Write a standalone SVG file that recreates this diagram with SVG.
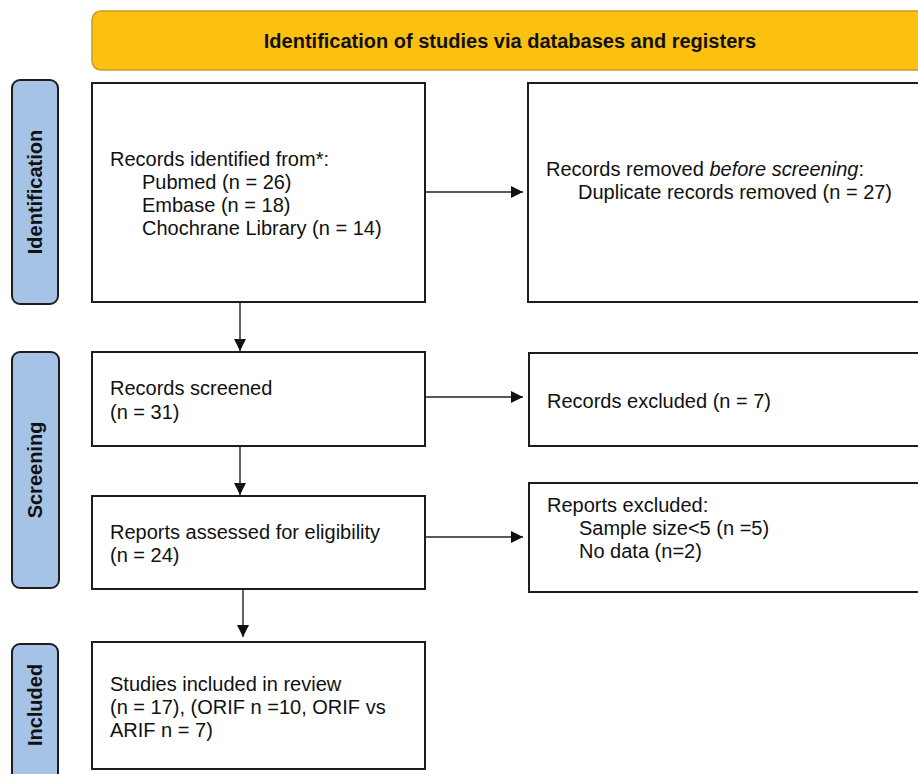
<svg xmlns="http://www.w3.org/2000/svg" width="918" height="774" viewBox="0 0 918 774">
<style>
.box{fill:#fff;stroke:#1e1e1e;stroke-width:2}
.side{fill:#a4c3e6;stroke:#1e1e1e;stroke-width:2}
.hdr{fill:#fcc010;stroke:#c99a25;stroke-width:1.5}
.t{font-family:"Liberation Sans",Arial,sans-serif;font-size:20px;fill:#111}
.b{font-family:"Liberation Sans",Arial,sans-serif;font-weight:bold;fill:#111}
.c{stroke:#222;stroke-width:1.4;fill:none}
</style>
<defs>
<marker id="ah" markerUnits="userSpaceOnUse" markerWidth="13" markerHeight="13" refX="12" refY="6" orient="auto">
<path d="M0,0 L12,6 L0,12 z" fill="#111"/>
</marker>
</defs>
<rect width="918" height="774" fill="#fff"/>
<g id="header">
<rect class="hdr" x="92" y="11" width="840" height="59" rx="9"/>
<text class="b" x="510" y="48" font-size="20" text-anchor="middle">Identification of studies via databases and registers</text>
</g>
<g id="lbl-identification">
<rect class="side" x="12" y="80" width="46" height="224" rx="8"/>
<text class="b" font-size="20" text-anchor="middle" transform="translate(42,192) rotate(-90)">Identification</text>
</g>
<g id="lbl-screening">
<rect class="side" x="12" y="352" width="47" height="236" rx="8"/>
<text class="b" font-size="20" text-anchor="middle" transform="translate(42,470) rotate(-90)">Screening</text>
</g>
<g id="lbl-included">
<rect class="side" x="12" y="644" width="46" height="150" rx="8"/>
<text class="b" font-size="20" text-anchor="middle" transform="translate(42,705) rotate(-90)">Included</text>
</g>
<g id="n-identified">
<rect class="box" x="92" y="83" width="333" height="219"/>
<text class="t" x="110" y="166">Records identified from*:</text>
<text class="t" x="142" y="189">Pubmed (n = 26)</text>
<text class="t" x="142" y="212">Embase (n = 18)</text>
<text class="t" x="142" y="235">Chochrane Library (n = 14)</text>
</g>
<g id="n-removed">
<rect class="box" x="528" y="83" width="400" height="219"/>
<text class="t" x="546" y="176">Records removed <tspan font-style="italic">before screening</tspan>:</text>
<text class="t" x="578" y="199">Duplicate records removed (n = 27)</text>
</g>
<g id="n-screened">
<rect class="box" x="92" y="352" width="333" height="94"/>
<text class="t" x="110" y="395">Records screened</text>
<text class="t" x="110" y="419">(n = 31)</text>
</g>
<g id="n-rec-excluded">
<rect class="box" x="529" y="353" width="400" height="93"/>
<text class="t" x="547" y="408">Records excluded (n = 7)</text>
</g>
<g id="n-assessed">
<rect class="box" x="92" y="496" width="333" height="93"/>
<text class="t" x="110" y="539">Reports assessed for eligibility</text>
<text class="t" x="110" y="562">(n = 24)</text>
</g>
<g id="n-rep-excluded">
<rect class="box" x="529" y="483" width="400" height="109"/>
<text class="t" x="547" y="512">Reports excluded:</text>
<text class="t" x="579" y="535">Sample size&lt;5 (n =5)</text>
<text class="t" x="579" y="558">No data (n=2)</text>
</g>
<g id="n-included">
<rect class="box" x="92" y="642" width="333" height="127"/>
<text class="t" x="110" y="691">Studies included in review</text>
<text class="t" x="110" y="714">(n = 17), (ORIF n =10, ORIF vs</text>
<text class="t" x="110" y="737">ARIF n = 7)</text>
</g>
<g id="connectors">
<line class="c" x1="425" y1="192" x2="523" y2="192" marker-end="url(#ah)"/>
<line class="c" x1="240" y1="302" x2="240" y2="351" marker-end="url(#ah)"/>
<line class="c" x1="425" y1="397" x2="523" y2="397" marker-end="url(#ah)"/>
<line class="c" x1="240" y1="446" x2="240" y2="495" marker-end="url(#ah)"/>
<line class="c" x1="425" y1="537" x2="523" y2="537" marker-end="url(#ah)"/>
<line class="c" x1="243" y1="589" x2="243" y2="637" marker-end="url(#ah)"/>
</g>
</svg>
